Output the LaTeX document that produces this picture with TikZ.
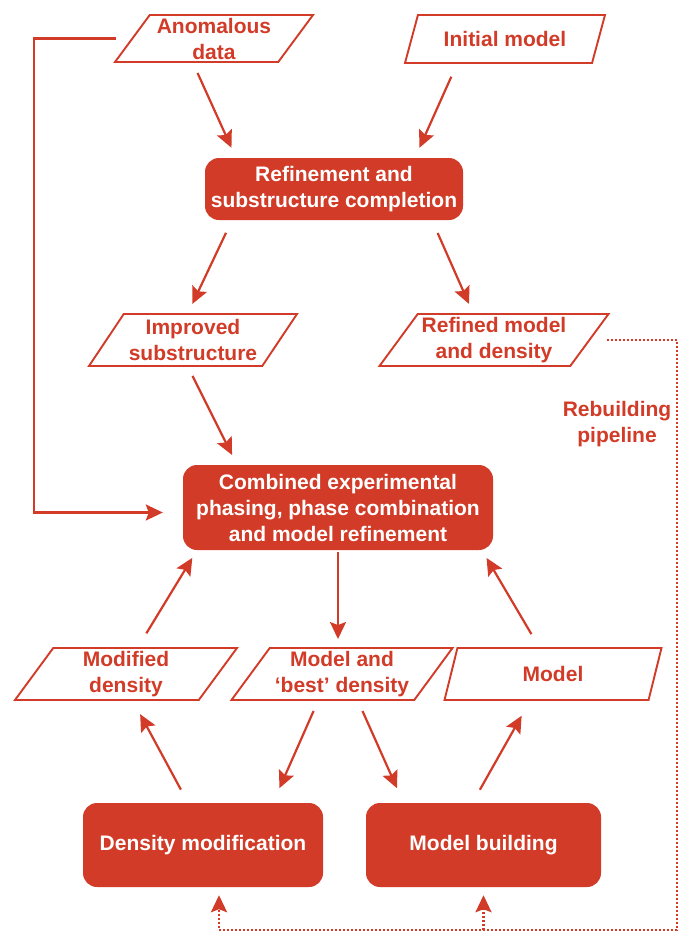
\documentclass[tikz,border=0pt]{standalone}
\usepackage{fontspec}
\setmainfont{Liberation Sans}
\usetikzlibrary{shapes.geometric}
\usetikzlibrary{arrows.meta}
\usetikzlibrary{calc}
\definecolor{flowred}{RGB}{209,59,39}
\tikzset{>={Stealth[length=17pt,width=16pt,inset=3pt]}}
\tikzset{lbl/.style={font=\bfseries\fontsize{21}{26}\selectfont, align=center}}
\tikzset{datum/.style={lbl, trapezium, trapezium left angle=50, trapezium right angle=130, trapezium stretches body, draw=flowred, line width=1.9pt, text=flowred, inner xsep=-8pt, inner ysep=0pt, minimum height=52pt}}
\tikzset{proc/.style={lbl, fill=flowred, text=white, rounded corners=14pt, inner sep=0pt}}
\tikzset{flow/.style={->, draw=flowred, line width=2.2pt}}
\tikzset{pipe/.style={->, draw=flowred, line width=2.6pt, dash pattern=on 2pt off 2pt}}

\begin{document}
\begin{tikzpicture}[x=1pt,y=-1pt]
\useasboundingbox (0,0) rectangle (680,932);

\node[datum, minimum width=198pt, minimum height=47pt] (anom) at (214,38.5) {Anomalous\\data};
\node[datum, minimum width=200pt, minimum height=48pt] (init) at (505,39) {Initial model};
\node[proc, minimum width=258pt, minimum height=62pt] (refine) at (334,189) {Refinement and\\substructure completion};

\node[datum, minimum width=208pt] (impr) at (193,340) {Improved\\substructure};
\node[datum, minimum width=229pt] (refd) at (494,340) {Refined model\\and density};
\node[lbl, text=flowred] (rebuild) at (617,424) {Rebuilding\\pipeline};

\node[proc, minimum width=310pt, minimum height=85pt] (comb) at (338,507.5) {Combined experimental\\phasing, phase combination\\and model refinement};

\node[datum, minimum width=222pt] (mod) at (126,674) {Modified\\density};
\node[datum, minimum width=221pt] (best) at (342,674) {Model and\\‘best’ density};
\node[datum, minimum width=217pt] (model) at (553,674) {Model};

\node[proc, minimum width=240pt, minimum height=84pt] (dens) at (203,845) {Density modification};
\node[proc, minimum width=235pt, minimum height=84pt] (build) at (483.5,845) {Model building};

\coordinate (corner) at (677,930);

\draw[flow, shorten <=11pt, shorten >=11pt] ([xshift=-21pt]anom.south) -- ([xshift=-98pt]refine.north);
\draw[flow, shorten <=14pt, shorten >=11pt] ([xshift=-48pt]init.south) -- ([xshift=81pt]refine.north);
\draw[flow, shorten <=14pt, shorten >=10pt] ([xshift=-102pt]refine.south) -- ([xshift=-5pt]impr.north);
\draw[flow, shorten <=14pt, shorten >=10pt] ([xshift=98pt]refine.south) -- ([xshift=-21pt]refd.north);
\draw[flow, shorten <=10pt, shorten >=11pt] ([xshift=-5pt]impr.south) -- ([xshift=-101pt]comb.north);

\draw[flow] ([xshift=-15pt]anom.west) -- ++(-82,0) |- ([xshift=-20pt,yshift=-5pt]comb.west);

\draw[flow, shorten <=2pt, shorten >=8pt] (comb.south) -- (comb.south |- best.north);
\draw[flow, shorten <=16pt, shorten >=9pt] ([xshift=12pt]mod.north) -- ([xshift=-141pt]comb.south);
\draw[flow, shorten <=15pt, shorten >=9pt] ([xshift=-14pt]model.north) -- ([xshift=144pt]comb.south);

\draw[flow, shorten <=15pt, shorten >=15pt] ([xshift=-15pt]dens.north) -- ([xshift=7pt]mod.south);
\draw[flow, shorten <=11pt, shorten >=16pt] ([xshift=-24pt]best.south) -- ([xshift=70pt]dens.north);
\draw[flow, shorten <=11pt, shorten >=16pt] ([xshift=16pt]best.south) -- ([xshift=-80pt]build.north);
\draw[flow, shorten <=15pt, shorten >=17pt] ([xshift=-11pt]build.north) -- ([xshift=-23pt]model.south);

\draw[pipe] ([xshift=16pt]refd.east) -| (corner) -| ([xshift=16pt,yshift=-8pt]dens.south);
\draw[pipe] (corner -| build.south) -- ([yshift=-8pt]build.south);

\end{tikzpicture}
\end{document}
